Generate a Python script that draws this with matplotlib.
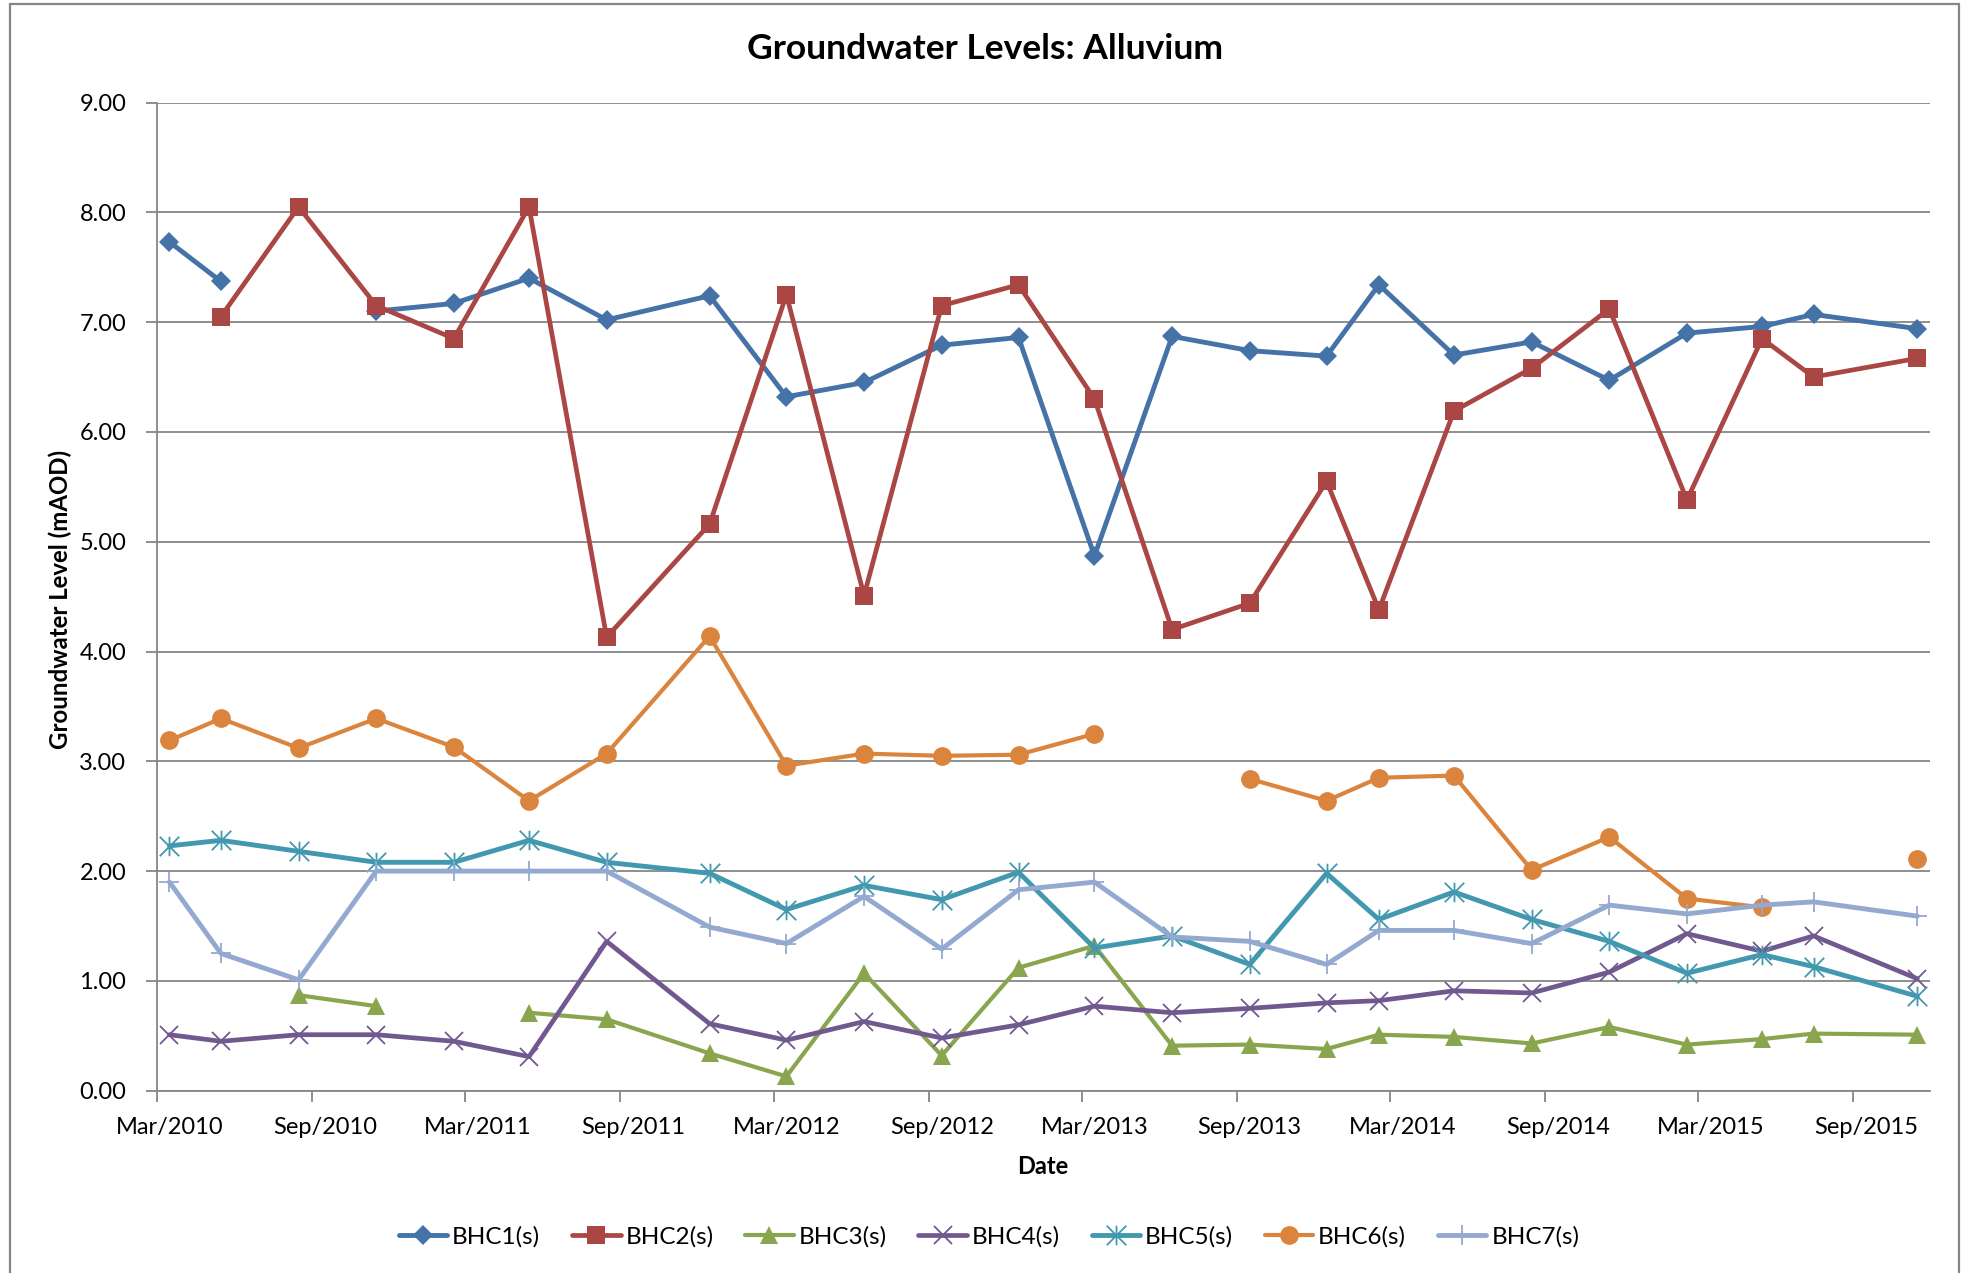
import datetime as dt

import matplotlib
matplotlib.use("Agg")
import matplotlib.pyplot as plt
import matplotlib.dates as mdates
from matplotlib.patches import Rectangle
from matplotlib.path import Path
import numpy as np

plt.rcParams["font.family"] = ["Lato", "DejaVu Sans"]

# Sampling months (plotted mid-month on a monthly date axis)
sample_months = [
    "2010-03", "2010-05", "2010-08", "2010-11", "2011-02", "2011-05",
    "2011-08", "2011-12", "2012-03", "2012-06", "2012-09", "2012-12",
    "2013-03", "2013-06", "2013-09", "2013-12", "2014-02", "2014-05",
    "2014-08", "2014-11", "2015-02", "2015-05", "2015-07", "2015-11",
]

nan = np.nan
bhc1 = [7.73, 7.37, nan, 7.10, 7.17, 7.40, 7.02, 7.24, 6.32, 6.45, 6.79, 6.86,
        4.87, 6.87, 6.74, 6.69, 7.34, 6.70, 6.82, 6.47, 6.90, 6.96, 7.07, 6.94]
bhc2 = [nan, 7.05, 8.05, 7.15, 6.85, 8.05, 4.13, 5.16, 7.25, 4.51, 7.15, 7.34,
        6.30, 4.20, 4.44, 5.55, 4.38, 6.19, 6.58, 7.12, 5.38, 6.85, 6.50, 6.67]
bhc3 = [nan, nan, 0.87, 0.77, nan, 0.71, 0.65, 0.34, 0.13, 1.07, 0.32, 1.12,
        1.32, 0.41, 0.42, 0.38, 0.51, 0.49, 0.43, 0.58, 0.42, 0.47, 0.52, 0.51]
bhc4 = [0.51, 0.45, 0.51, 0.51, 0.45, 0.31, 1.36, 0.61, 0.46, 0.63, 0.48, 0.60,
        0.77, 0.71, 0.75, 0.80, 0.82, 0.91, 0.89, 1.08, 1.43, 1.27, 1.41, 1.02]
bhc5 = [2.23, 2.28, 2.18, 2.08, 2.08, 2.28, 2.08, 1.98, 1.65, 1.87, 1.74, 1.99,
        1.30, 1.41, 1.15, 1.98, 1.56, 1.81, 1.56, 1.36, 1.07, 1.24, 1.13, 0.86]
bhc6 = [3.19, 3.39, 3.12, 3.39, 3.13, 2.64, 3.07, 4.14, 2.96, 3.07, 3.05, 3.06,
        3.25, nan, 2.84, 2.64, 2.85, 2.87, 2.01, 2.31, 1.75, 1.67, nan, 2.11]
bhc7 = [1.90, 1.25, 1.01, 2.00, 2.00, 2.00, 2.00, 1.49, 1.34, 1.77, 1.29, 1.83,
        1.90, 1.40, 1.36, 1.15, 1.46, 1.46, 1.34, 1.69, 1.61, 1.69, 1.72, 1.59]

series_names = ["BHC1(s)", "BHC2(s)", "BHC3(s)", "BHC4(s)", "BHC5(s)", "BHC6(s)", "BHC7(s)"]
series_values = [bhc1, bhc2, bhc3, bhc4, bhc5, bhc6, bhc7]

title_text = "Groundwater Levels: Alluvium"
x_label = "Date"
y_label = "Groundwater Level (mAOD)"

dates = [dt.datetime.strptime(m + "-16", "%Y-%m-%d") for m in sample_months]

# Asterisk marker: an X with a vertical bar through it
star_path = Path(
    [(0, -1), (0, 1), (-1, -1), (1, 1), (-1, 1), (1, -1)],
    [Path.MOVETO, Path.LINETO, Path.MOVETO, Path.LINETO, Path.MOVETO, Path.LINETO],
)

styles = [
    dict(color="#4572A7", marker="D", ms=10.5, lw=3.5),
    dict(color="#AA4643", marker="s", ms=13.5, lw=3.4),
    dict(color="#89A54E", marker="^", ms=13.5, lw=3.0),
    dict(color="#71588F", marker="x", ms=13.0, lw=3.4, mew=1.3),
    dict(color="#4198AF", marker=star_path, ms=14.0, lw=3.5, mew=1.3),
    dict(color="#DB843D", marker="o", ms=13.5, lw=3.0),
    dict(color="#93A9CF", marker="+", ms=14.0, lw=3.5, mew=1.3),
]

fig = plt.figure(figsize=(19.68, 12.73), dpi=100)
W, H = 1968, 1273
ax = fig.add_axes([156.8 / W, 1 - 1090.7 / H, (1930 - 156.8) / W, (1090.7 - 102.5) / H])

for name, vals, st in zip(series_names, series_values, styles):
    kw = dict(color=st["color"], lw=st["lw"], marker=st["marker"], markersize=st["ms"],
              markerfacecolor=st["color"], markeredgecolor=st["color"],
              solid_joinstyle="round", solid_capstyle="round", label=name)
    kw["markeredgewidth"] = st.get("mew", 0)
    ax.plot(dates, vals, **kw)

grid_col = "#868686"
ax.set_ylim(0, 9)
ax.set_yticks(np.arange(0, 9.01, 1.0))
ax.yaxis.set_major_formatter(matplotlib.ticker.FormatStrFormatter("%.2f"))
ax.set_xlim(dt.datetime(2010, 3, 1), dt.datetime(2015, 12, 1))

# Tick marks at month starts, labels centred on the month
ax.xaxis.set_major_locator(mdates.MonthLocator(bymonth=[3, 9], bymonthday=1))
ax.xaxis.set_major_formatter(matplotlib.ticker.NullFormatter())
ax.xaxis.set_minor_locator(mdates.MonthLocator(bymonth=[3, 9], bymonthday=16))
ax.xaxis.set_minor_formatter(mdates.DateFormatter("%b/%Y"))
ax.tick_params(axis="x", which="major", length=8, width=1.3, color=grid_col, direction="out")
ax.tick_params(axis="x", which="minor", length=0, pad=19, labelsize=17, labelcolor="black")
ax.tick_params(axis="y", length=8, width=1.3, color=grid_col, direction="out",
               pad=14, labelsize=17, labelcolor="black")

ax.grid(axis="y", color=grid_col, lw=1.3)
ax.set_axisbelow(True)
for side in ("top", "right"):
    ax.spines[side].set_visible(False)
for side in ("left", "bottom"):
    ax.spines[side].set_color(grid_col)
    ax.spines[side].set_linewidth(1.3)

fig.text(985 / W, 1 - 49 / H, title_text, ha="center", va="center",
         fontsize=25.5, fontweight="bold")
fig.text(1043 / W, 1 - 1166 / H, x_label, ha="center", va="center",
         fontsize=17, fontweight="bold")
fig.text(60 / W, 1 - 599 / H, y_label, ha="center", va="center", rotation=90,
         fontsize=17.3, fontweight="bold")

handles, labels = ax.get_legend_handles_labels()
fig.legend(handles, labels, loc="center", bbox_to_anchor=(989 / W, 1 - 1237 / H),
           ncol=7, frameon=False, fontsize=17.5, handlelength=2.0, handletextpad=0.2,
           columnspacing=1.3, numpoints=1)

fig.add_artist(Rectangle((10 / W, -0.05), (1959 - 10) / W, 1.05 - 4 / H,
                         transform=fig.transFigure, fill=False,
                         edgecolor=grid_col, lw=1.6, clip_on=False))

fig.savefig("out.png", dpi=100, facecolor="white")
